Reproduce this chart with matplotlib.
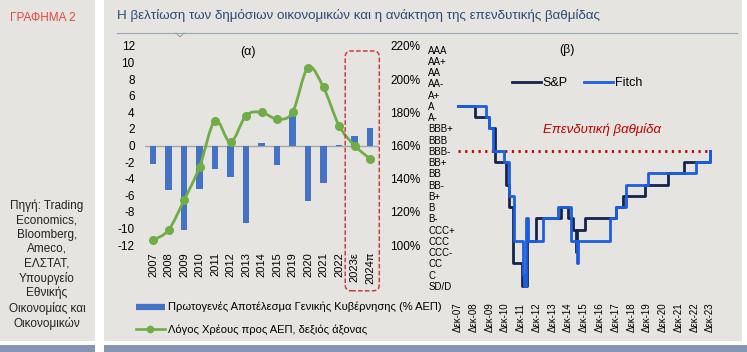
import numpy as np
import matplotlib.pyplot as plt
from matplotlib.patches import Rectangle, FancyBboxPatch, PathPatch
from matplotlib.path import Path
from matplotlib.lines import Line2D

plt.rcParams['font.family'] = ['Liberation Sans', 'DejaVu Sans']
plt.rcParams['axes.unicode_minus'] = False

# ---- panel (α) ----
years = ['2007', '2008', '2009', '2010', '2011', '2012', '2013', '2014', '2015',
         '2019', '2020', '2021', '2022', '2023ε', '2024π']
primary_balance = [-2.2, -5.4, -10.2, -5.3, -2.8, -3.8, -9.3, 0.3, -2.3,
                   3.9, -6.7, -4.5, 0.1, 1.1, 2.1]
debt_ratio = [103, 109, 127, 147, 175, 162, 178, 180, 176,
              180, 207, 195, 172, 160, 152]
highlight = ['2023ε', '2024π']

# ---- panel (β) ----
rating_scale = ['AAA', 'AA+', 'AA', 'AA-', 'A+', 'A', 'A-', 'BBB+', 'BBB', 'BBB-',
                'BB+', 'BB', 'BB-', 'B+', 'B', 'B-', 'CCC+', 'CCC', 'CCC-', 'CC', 'C', 'SD/D']
sp_dates = [2007.92, 2008.97, 2009.92, 2010.24, 2010.98, 2011.19, 2011.40, 2011.98,
            2012.32, 2012.89, 2014.48, 2014.90, 2015.22, 2015.40, 2015.50, 2015.96,
            2017.97, 2018.41, 2019.77, 2021.25, 2022.30, 2023.89, 2023.95]
sp_ratings = ['A', 'A-', 'BBB+', 'BB+', 'BB-', 'B', 'CC', 'SD/D',
              'CCC', 'B-', 'B', 'B-', 'CCC+', 'CCC-', 'CCC+', 'B-',
              'B', 'B+', 'BB-', 'BB', 'BB+', 'BBB-', 'BBB-']
fitch_dates = [2007.92, 2009.71, 2009.92, 2010.14, 2010.87, 2011.15, 2011.45, 2012.04,
               2012.10, 2012.22, 2012.38, 2013.31, 2014.26, 2015.07, 2015.45, 2015.55,
               2017.54, 2017.97, 2018.60, 2019.98, 2023.05, 2023.89, 2023.95]
fitch_ratings = ['A', 'A-', 'BBB+', 'BBB-', 'BB+', 'B+', 'CCC', 'C',
                 'SD/D', 'B-', 'CCC', 'B-', 'B', 'CCC', 'CC', 'CCC',
                 'B-', 'B', 'BB-', 'BB', 'BB+', 'BBB-', 'BBB-']
date_ticks = [2007.92, 2008.92, 2009.92, 2010.92, 2011.92, 2012.92, 2013.92, 2014.92,
              2015.92, 2016.92, 2017.92, 2018.92, 2019.92, 2020.92, 2021.92, 2022.92,
              2023.92]
date_labels = ['Δεκ-07', 'Δεκ-08', 'Δεκ-09', 'Δεκ-10', 'Δεκ-11', 'Δεκ-12', 'Δεκ-13',
               'Δεκ-14', 'Δεκ-15', 'Δεκ-16', 'Δεκ-17', 'Δεκ-18', 'Δεκ-19', 'Δεκ-20',
               'Δεκ-21', 'Δεκ-22', 'Δεκ-23']
investment_grade = 'BBB-'

W, H = 747, 352
BG = '#e5e4e0'
BAR = '#4472c4'
GREEN = '#70ad47'
SP = '#14244f'
FITCH = '#1b5fe0'
DARKRED = '#c00000'


def fx(px):
    return px / W


def fy(py):
    return 1 - py / H


fig = plt.figure(figsize=(W / 100, H / 100), dpi=100)
fig.patch.set_facecolor('white')

# page furniture
for x0, y0, x1, y1, c in [(0, 0, 95, 341, BG), (104, 0, 742, 341, BG),
                          (0, 345, 95, 352, '#8596b4'), (104, 345, 747, 352, '#8596b4')]:
    fig.add_artist(Rectangle((fx(x0), fy(y1)), fx(x1) - fx(x0), fy(y0) - fy(y1),
                             transform=fig.transFigure, color=c, lw=0, zorder=-10))
fig.text(fx(43), fy(18), 'ΓΡΑΦΗΜΑ 2', color='#e8463c', fontsize=8.5, ha='center', va='center')
fig.text(fx(117), fy(16), 'Η βελτίωση των δημόσιων οικονομικών και η ανάκτηση της επενδυτικής βαθμίδας',
         color='#2c4a78', fontsize=9.6, ha='left', va='center')
fig.add_artist(Line2D([fx(117), fx(737)], [fy(33), fy(33)], color='#9aa3b3', lw=0.8))
fig.add_artist(Line2D([fx(176), fx(180), fx(184)], [fy(33), fy(37), fy(33)], color='#9aa3b3', lw=0.8))
fig.text(fx(47), fy(265), 'Πηγή: Trading\nEconomics,\nBloomberg,\nAmeco,\nΕΛΣΤΑΤ,\nΥπουργείο\nΕθνικής\nΟικονομίας και\nΟικονομικών',
         fontsize=8.5, ha='center', va='center', linespacing=1.25, color='#222222')

# ---- (α) ----
x = np.arange(len(years))
ax1 = fig.add_axes([fx(144.5), fy(245), fx(234.8), (245 - 46) / H])
ax1.set_facecolor('none')
ax1.bar(x, primary_balance, width=0.4, color=BAR, zorder=2)
ax1.axhline(0, color='#a6a6a6', lw=1, zorder=1)
ax1.set_xlim(-0.55, len(years) - 1 + 0.6)
ax1.set_ylim(-12, 12)
ax1.set_yticks(np.arange(-12, 13, 2))
ax1.set_xticks(x, years, rotation=90)
ax1.tick_params(axis='y', length=0, labelsize=8.5, pad=7)
ax1.tick_params(axis='x', length=0, labelsize=8, pad=5)
for s in ax1.spines.values():
    s.set_visible(False)

ax1r = ax1.twinx()
ax1r.set_ylim(100, 220)
ax1r.set_yticks(np.arange(100, 221, 20), [f'{v}%' for v in range(100, 221, 20)])
ax1r.tick_params(axis='y', length=0, labelsize=8.5, pad=8)
for s in ax1r.spines.values():
    s.set_visible(False)

# smoothed line (Catmull-Rom as cubic Bezier)
pts = np.column_stack([x, debt_ratio]).astype(float)
ext = np.vstack([pts[0], pts, pts[-1]])
verts = [pts[0]]
codes = [Path.MOVETO]
for i in range(len(pts) - 1):
    p0, p1, p2, p3 = ext[i], ext[i + 1], ext[i + 2], ext[i + 3]
    verts += [p1 + (p2 - p0) / 6, p2 - (p3 - p1) / 6, p2]
    codes += [Path.CURVE4] * 3
ax1r.add_patch(PathPatch(Path(verts, codes), fill=False, edgecolor=GREEN, lw=2, zorder=3))
ax1r.plot(x, debt_ratio, 'o', color=GREEN, markersize=5.5, zorder=4)

fig.text(fx(248), fy(52), '(α)', fontsize=9, ha='center', va='center')

# highlighted forecast box
i0, i1 = years.index(highlight[0]), years.index(highlight[-1])
fig.canvas.draw()
px0 = ax1.transData.transform((i0 - 0.6, 0))[0]
px1 = ax1.transData.transform((i1 + 0.6, 0))[0]
bb = ax1.get_position()
ytop = bb.y0 + bb.height * 0.975
ybot = bb.y0 - bb.height * 0.23
fig.add_artist(FancyBboxPatch((px0 / W, ybot), (px1 - px0) / W, ytop - ybot,
                              boxstyle='round,pad=0,rounding_size=0.008',
                              mutation_aspect=W / H, transform=fig.transFigure,
                              fill=False, edgecolor='#d23a3a', lw=1.1, ls=(0, (3, 1.5))))

handles = [Line2D([], [], color=BAR, lw=4.5, solid_capstyle='butt'),
           Line2D([], [], color=GREEN, lw=1.9, marker='o', markersize=4.5)]
fig.legend(handles, ['Πρωτογενές Αποτέλεσμα Γενικής Κυβέρνησης (% ΑΕΠ)',
                     'Λόγος Χρέους προς ΑΕΠ, δεξιός άξονας'],
           loc='upper left', bbox_to_anchor=(fx(126), fy(292)), frameon=False,
           fontsize=8, handlelength=2.6, handletextpad=0.3, labelspacing=1.1)

# ---- (β) ----
ax2 = fig.add_axes([fx(452), fy(291.6), fx(264), 247.5 / H])
ax2.set_facecolor('none')
sp_lv = [rating_scale.index(r) for r in sp_ratings]
fi_lv = [rating_scale.index(r) for r in fitch_ratings]
ax2.plot(sp_dates, sp_lv, drawstyle='steps-post', color=SP, lw=2, label='S&P', zorder=3)
ax2.plot(fitch_dates, fi_lv, drawstyle='steps-post', color=FITCH, lw=2, label='Fitch', zorder=4)
ig = rating_scale.index(investment_grade)
ax2.hlines(ig, sp_dates[0], sp_dates[-1], color=DARKRED, lw=2, ls=(0, (0.8, 1.6)), zorder=2)
ax2.text((sp_dates[0] + sp_dates[-1]) / 2 + 1.1, ig - 1.9, 'Επενδυτική βαθμίδα',
         color=DARKRED, fontsize=9.5, style='italic', ha='center', va='center')
ax2.set_ylim(len(rating_scale) - 0.5, -0.5)
ax2.set_xlim(2007.54, 2024.30)
ax2.set_yticks(range(len(rating_scale)), rating_scale)
ax2.set_xticks(date_ticks, date_labels, rotation=90)
ax2.tick_params(axis='y', length=0, labelsize=7, pad=17)
for lbl in ax2.get_yticklabels():
    lbl.set_ha('left')
ax2.tick_params(axis='x', length=0, labelsize=7, pad=8)
for s in ax2.spines.values():
    s.set_visible(False)
ax2.legend(loc='center', bbox_to_anchor=(fx(577), fy(83)), bbox_transform=fig.transFigure,
           ncol=2, frameon=False, fontsize=9, handlelength=2.3, handletextpad=0.15,
           columnspacing=1.3)
fig.text(fx(567), fy(50), '(β)', fontsize=9, ha='center', va='center')

fig.savefig('out.png', dpi=100)
